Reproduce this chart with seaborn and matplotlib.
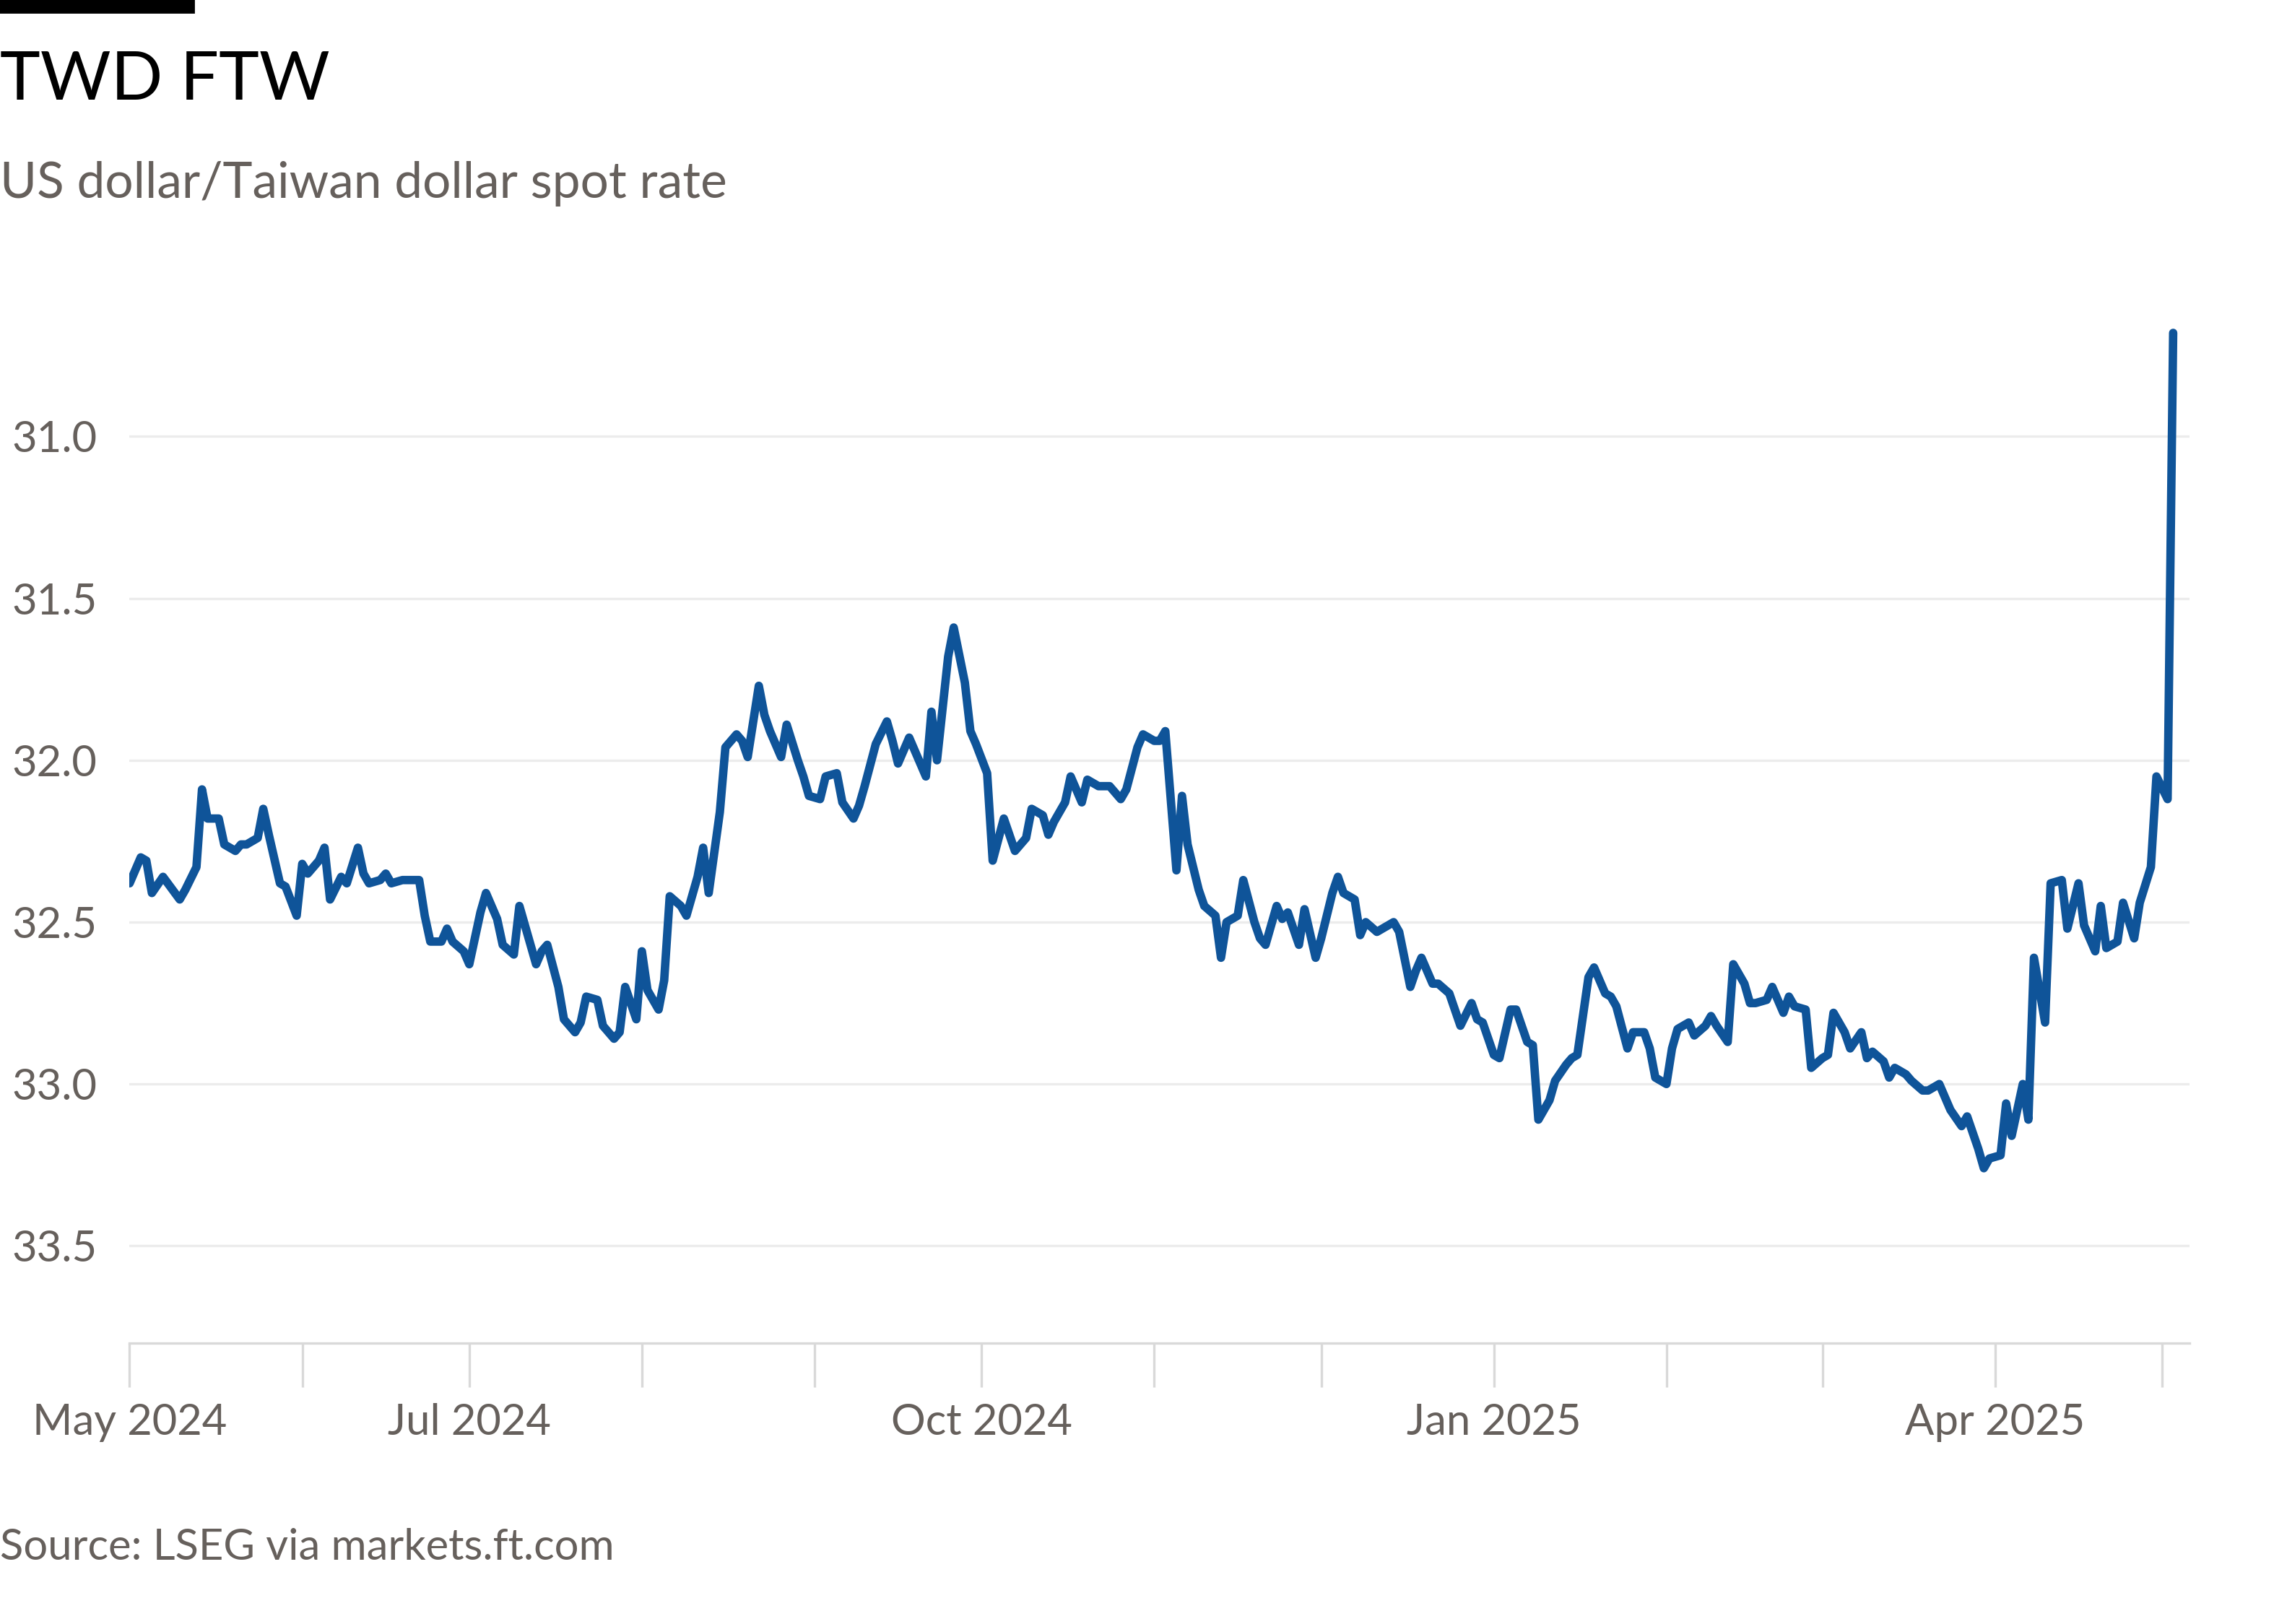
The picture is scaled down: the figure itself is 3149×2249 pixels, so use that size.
import datetime
import matplotlib
matplotlib.use("Agg")
import matplotlib.pyplot as plt
import matplotlib.dates as mdates
import seaborn as sns
import pandas as pd

day_offsets = [0, 2, 3, 4, 6, 9, 10, 12, 13, 14, 16, 17, 19, 20, 21, 23, 24, 25, 27, 28,
               30, 31, 32, 34, 35, 36, 38, 39, 41, 42, 43, 45, 46, 47, 49, 52, 53, 54, 56, 57,
               58, 60, 61, 63, 64, 66, 67, 69, 70, 71, 73, 74, 75, 77, 78, 80, 81, 82, 84, 85,
               87, 88, 89, 91, 92, 93, 95, 96, 97, 99, 100, 102, 103, 104, 106, 107, 109, 110, 111, 113,
               114, 115, 117, 118, 120, 121, 122, 124, 125, 127, 128, 130, 131, 132, 134, 136, 137, 138, 140, 141,
               143, 144, 145, 147, 148, 150, 151, 152, 154, 155, 157, 158, 159, 161, 162, 164, 165, 166, 168, 169,
               171, 172, 174, 175, 176, 178, 179, 181, 182, 184, 185, 186, 188, 189, 190, 192, 193, 195, 196, 197,
               199, 200, 202, 203, 204, 206, 207, 208, 210, 211, 213, 214, 216, 217, 218, 220, 221, 222, 224, 225,
               227, 228, 230, 231, 232, 234, 235, 237, 238, 239, 241, 242, 243, 245, 246, 248, 249, 251, 252, 253,
               255, 256, 258, 259, 260, 262, 263, 265, 266, 267, 269, 270, 272, 273, 274, 276, 277, 278, 280, 281,
               283, 284, 285, 287, 288, 290, 291, 292, 294, 295, 297, 298, 299, 301, 302, 304, 305, 306, 308, 309,
               311, 312, 313, 315, 316, 317, 319, 320, 322, 323, 325, 326, 327, 329, 330, 332, 333, 334, 336, 337,
               338, 340, 341, 342, 344, 345, 347, 348, 350, 351, 353, 354, 355, 357, 358, 360, 361, 363, 364, 366,
               367]
rates = [32.38, 32.30, 32.31, 32.41, 32.36, 32.43, 32.40, 32.33, 32.09, 32.18, 32.18, 32.26, 32.28, 32.26, 32.26, 32.24, 32.15, 32.23, 32.38, 32.39,
         32.48, 32.32, 32.35, 32.31, 32.27, 32.43, 32.36, 32.38, 32.27, 32.35, 32.38, 32.37, 32.35, 32.38, 32.37, 32.37, 32.48, 32.56, 32.56, 32.52,
         32.56, 32.59, 32.63, 32.47, 32.41, 32.49, 32.57, 32.60, 32.45, 32.51, 32.63, 32.59, 32.57, 32.70, 32.80, 32.84, 32.81, 32.73, 32.74, 32.82,
         32.86, 32.84, 32.70, 32.80, 32.59, 32.71, 32.77, 32.68, 32.42, 32.45, 32.48, 32.36, 32.27, 32.41, 32.16, 31.96, 31.92, 31.94, 31.99, 31.77,
         31.86, 31.91, 31.99, 31.89, 32.00, 32.05, 32.11, 32.12, 32.05, 32.04, 32.13, 32.18, 32.14, 32.08, 31.95, 31.88, 31.94, 32.01, 31.93, 31.97,
         32.05, 31.85, 32.00, 31.68, 31.59, 31.76, 31.91, 31.95, 32.04, 32.31, 32.18, 32.23, 32.28, 32.24, 32.15, 32.17, 32.23, 32.19, 32.13, 32.05,
         32.13, 32.06, 32.08, 32.08, 32.08, 32.12, 32.09, 31.96, 31.92, 31.94, 31.94, 31.91, 32.34, 32.11, 32.26, 32.40, 32.45, 32.48, 32.61, 32.50,
         32.48, 32.37, 32.50, 32.55, 32.57, 32.45, 32.49, 32.47, 32.57, 32.46, 32.61, 32.55, 32.41, 32.36, 32.41, 32.43, 32.54, 32.50, 32.53, 32.52,
         32.50, 32.53, 32.70, 32.65, 32.61, 32.69, 32.69, 32.72, 32.77, 32.82, 32.75, 32.80, 32.81, 32.91, 32.92, 32.77, 32.77, 32.87, 32.88, 33.11,
         33.05, 32.99, 32.94, 32.92, 32.91, 32.67, 32.64, 32.72, 32.73, 32.76, 32.89, 32.84, 32.84, 32.89, 32.98, 33.00, 32.89, 32.83, 32.81, 32.85,
         32.82, 32.79, 32.82, 32.87, 32.63, 32.69, 32.75, 32.75, 32.74, 32.70, 32.78, 32.73, 32.76, 32.77, 32.95, 32.92, 32.91, 32.78, 32.84, 32.89,
         32.84, 32.92, 32.90, 32.93, 32.98, 32.95, 32.97, 32.99, 33.02, 33.02, 33.00, 33.04, 33.08, 33.13, 33.10, 33.20, 33.26, 33.23, 33.22, 33.06,
         33.16, 33.00, 33.11, 32.61, 32.81, 32.38, 32.37, 32.52, 32.38, 32.51, 32.59, 32.45, 32.58, 32.56, 32.44, 32.55, 32.44, 32.33, 32.05, 32.12,
         30.68]

start = datetime.date(2024, 5, 1)
df = pd.DataFrame({"date": [pd.Timestamp(start + datetime.timedelta(days=d)) for d in day_offsets],
                   "rate": rates})

font = "Lato"
grey = "#66605c"
sns.set_style("white")
plt.rcParams["font.family"] = font
plt.rcParams["xtick.bottom"] = True

fig = plt.figure(figsize=(15.745, 11.245), dpi=200)
ax = fig.add_axes([0.057, 0.173, 0.906, 0.628])
sns.lineplot(data=df, x="date", y="rate", ax=ax, color="#0f5499", linewidth=4.2)

ax.set_ylim(33.8, 30.65)
ax.set_yticks([31.0, 31.5, 32.0, 32.5, 33.0, 33.5])
ax.set_yticklabels(["31.0", "31.5", "32.0", "32.5", "33.0", "33.5"])
ax.set_xlim(pd.Timestamp("2024-05-01"), pd.Timestamp("2025-05-06"))
ax.grid(axis="y", color="#ececec", linewidth=1.2)
ax.set_xlabel("")
ax.set_ylabel("")
for s in ["top", "right", "left"]:
    ax.spines[s].set_visible(False)
ax.spines["bottom"].set_color("#d9d9d9")
ax.spines["bottom"].set_linewidth(1.2)

major = [pd.Timestamp(x) for x in ["2024-05-01", "2024-07-01", "2024-10-01", "2025-01-01", "2025-04-01"]]
ax.set_xticks(major)
ax.set_xticklabels(["May 2024", "Jul 2024", "Oct 2024", "Jan 2025", "Apr 2025"])
ax.xaxis.set_minor_locator(mdates.MonthLocator())
ax.tick_params(axis="x", which="both", bottom=True, length=22, width=1.2, color="#d9d9d9",
               labelsize=21.5, labelcolor=grey, pad=8)
ax.tick_params(axis="y", length=0, labelsize=21.5, labelcolor=grey, pad=0)
for lab in ax.get_yticklabels():
    lab.set_horizontalalignment("left")
    lab.set_x(-0.057)

fig.patches.append(plt.Rectangle((0, 0.9925), 0.085, 0.0075, transform=fig.transFigure,
                                 color="black"))
fig.text(0.0, 0.950, "TWD FTW", fontsize=34, color="black", va="center")
fig.text(0.0, 0.887, "US dollar/Taiwan dollar spot rate", fontsize=25, color=grey, va="center")
fig.text(0.0, 0.047, "Source: LSEG via markets.ft.com", fontsize=21.5, color=grey, va="center")

fig.savefig("out.png", dpi=200, facecolor="white")
